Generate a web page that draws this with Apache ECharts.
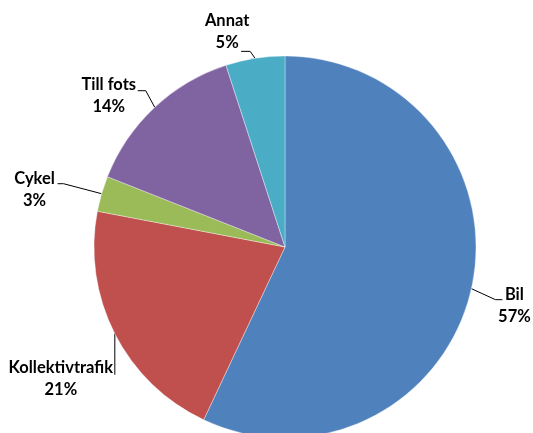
<!DOCTYPE html>
<html><head><meta charset="utf-8">
<script src="https://cdn.jsdelivr.net/npm/echarts@6/dist/echarts.min.js"></script>
<style>html,body{margin:0;padding:0;background:#fff}#c{width:533px;height:433px}</style>
</head><body><div id="c"></div>
<script>
const categories = ['Bil', 'Kollektivtrafik', 'Cykel', 'Till fots', 'Annat'];
const values = [57, 21, 3, 14, 5];
const colors = ['#4F81BD', '#C0504D', '#9BBB59', '#8064A2', '#4BACC6'];

// leader-line styling (relative offsets from the library's edge point)
const PIE_CENTER = [285, 247];
const PIE_RADIUS = 191;
const leaderStyle = [
  {seg1: [24, 11], seg2: [7, 0], text: [12, 6.5]},
  {seg1: [0, 41], seg2: [0, 0], text: [-54, 4]},
  {seg1: [-38, -10], seg2: [-6, 0], text: [-23, 6]},
  {angle: 317, seg1: [-9, -16.6], seg2: [-8, 0], text: [-29, 4.5]},
  {seg1: [-5, -7], seg2: [-9, 0], text: [-14, -20]}
];

const chart = echarts.init(document.getElementById('c'), null, {renderer: 'canvas'});
chart.setOption({
  animation: false,
  series: [{
    type: 'pie',
    center: PIE_CENTER,
    radius: PIE_RADIUS,
    startAngle: 90,
    clockwise: true,
    data: categories.map((n, i) => ({name: n, value: values[i], itemStyle: {color: colors[i]}})),
    itemStyle: {borderWidth: 0.6, borderColor: 'rgba(255,255,255,0.6)'},
    label: {
      formatter: p => p.name + '\n' + p.value + '%',
      fontFamily: 'Lato', fontWeight: 'bold', fontSize: 16.5, color: '#000',
      lineHeight: 22, align: 'center', overflow: 'none'
    },
    labelLine: {show: true, length: 12, length2: 14, lineStyle: {color: '#000', width: 1}},
    labelLayout: function (params) {
      const s = leaderStyle[params.dataIndex];
      let p0 = params.labelLinePoints ? params.labelLinePoints[0].slice() : [0, 0];
      if (s.angle !== undefined) {
        const a = (90 - s.angle) * Math.PI / 180;
        p0 = [PIE_CENTER[0] + PIE_RADIUS * Math.cos(a), PIE_CENTER[1] - PIE_RADIUS * Math.sin(a)];
      }
      const p1 = [p0[0] + s.seg1[0], p0[1] + s.seg1[1]];
      const p2 = [p1[0] + s.seg2[0], p1[1] + s.seg2[1]];
      return {
        x: p2[0] + s.text[0],
        y: p2[1] + s.text[1],
        align: 'center',
        verticalAlign: 'middle',
        labelLinePoints: [p0, p1, p2]
      };
    }
  }]
});
</script></body></html>
